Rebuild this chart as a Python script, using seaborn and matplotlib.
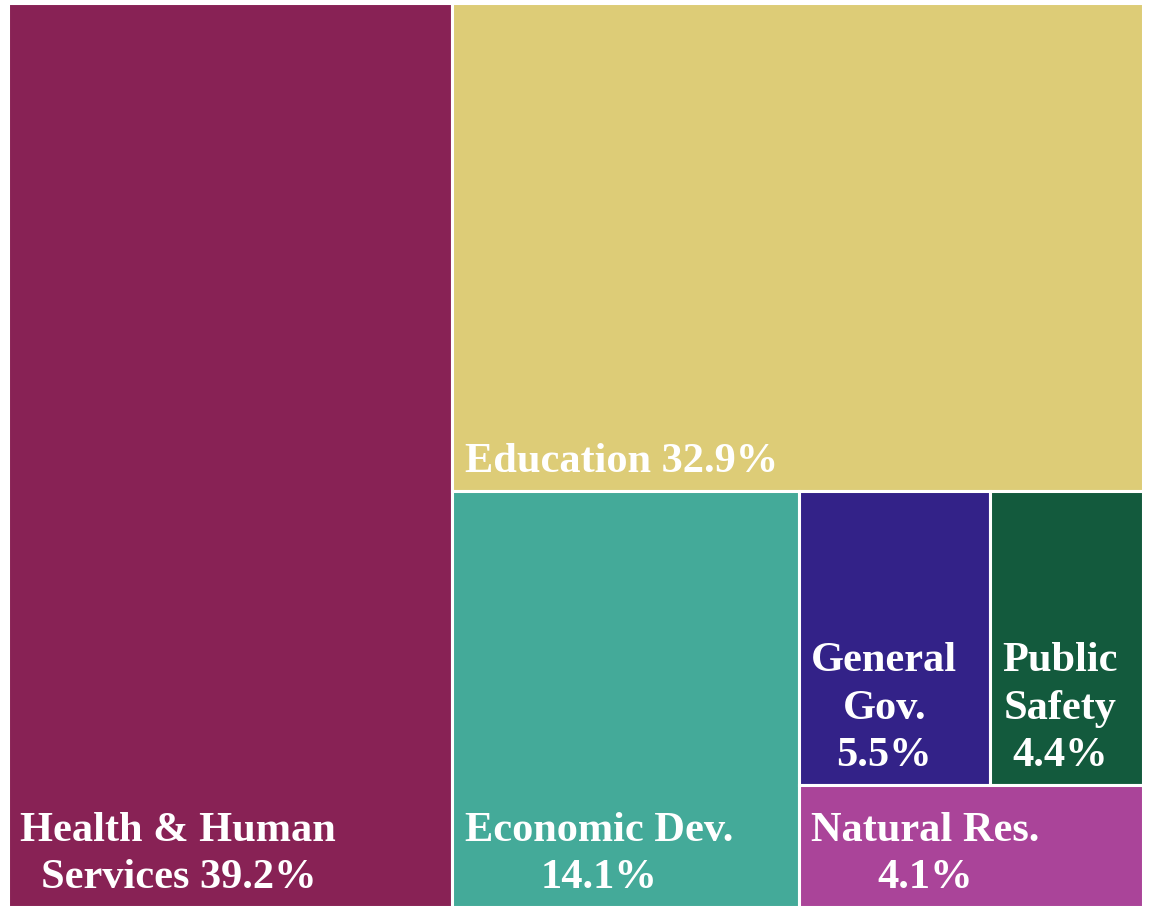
import matplotlib
matplotlib.use("Agg")
import matplotlib.pyplot as plt
from matplotlib.patches import Rectangle
import seaborn as sns

# spending shares (percent of total)
categories = ["Health & Human\nServices", "Education", "Economic Dev.",
              "General\nGov.", "Public\nSafety", "Natural Res."]
shares = [39.2, 32.9, 14.1, 5.5, 4.4, 4.1]
label_seps = [" ", " ", "\n", "\n", "\n", "\n"]
colors = ["#882255", "#DDCC77", "#44AA99", "#332288", "#135A3D", "#AA4499"]

# which tiles share a strip, in order of placement
strips = [[0], [1], [2], [3, 4], [5]]

sns.set_theme(style="white")
plt.rcParams["font.family"] = ["Liberation Serif", "DejaVu Serif"]

fig = plt.figure(figsize=(11.52, 9.09), dpi=100)
ax = fig.add_axes([8 / 1152, 2 / 909, 1135 / 1152, 904 / 909])
W, H = 1135.0, 904.0
ax.set_xlim(0, W)
ax.set_ylim(0, H)
ax.set_axis_off()


def layout(strips, shares, x, y, w, h):
    """Place each strip along the longer side of what is left."""
    rects = {}
    remaining = sum(shares)
    for strip in strips:
        s = sum(shares[i] for i in strip)
        frac = s / remaining
        if w >= h:
            sw = w * frac
            yy = y + h
            for i in strip:
                th = h * shares[i] / s
                yy -= th
                rects[i] = (x, yy, sw, th)
            x += sw
            w -= sw
        else:
            sh = h * frac
            xx = x
            for i in strip:
                tw = w * shares[i] / s
                rects[i] = (xx, y + h - sh, tw, sh)
                xx += tw
            h -= sh
        remaining -= s
    return rects


rects = layout(strips, shares, 0, 0, W, H)

for i, (rx, ry, rw, rh) in rects.items():
    ax.add_patch(Rectangle((rx, ry), rw, rh, facecolor=colors[i],
                           edgecolor="white", linewidth=2.2))
    label = f"{categories[i]}{label_seps[i]}{shares[i]:.1f}%"
    ax.annotate(label, xy=(rx, ry), xytext=(9, 7), textcoords="offset points",
                ha="left", va="bottom", multialignment="center",
                color="white", fontsize=30.5, fontweight="bold", linespacing=1.33)

fig.savefig("out.png", dpi=100, facecolor="white")
